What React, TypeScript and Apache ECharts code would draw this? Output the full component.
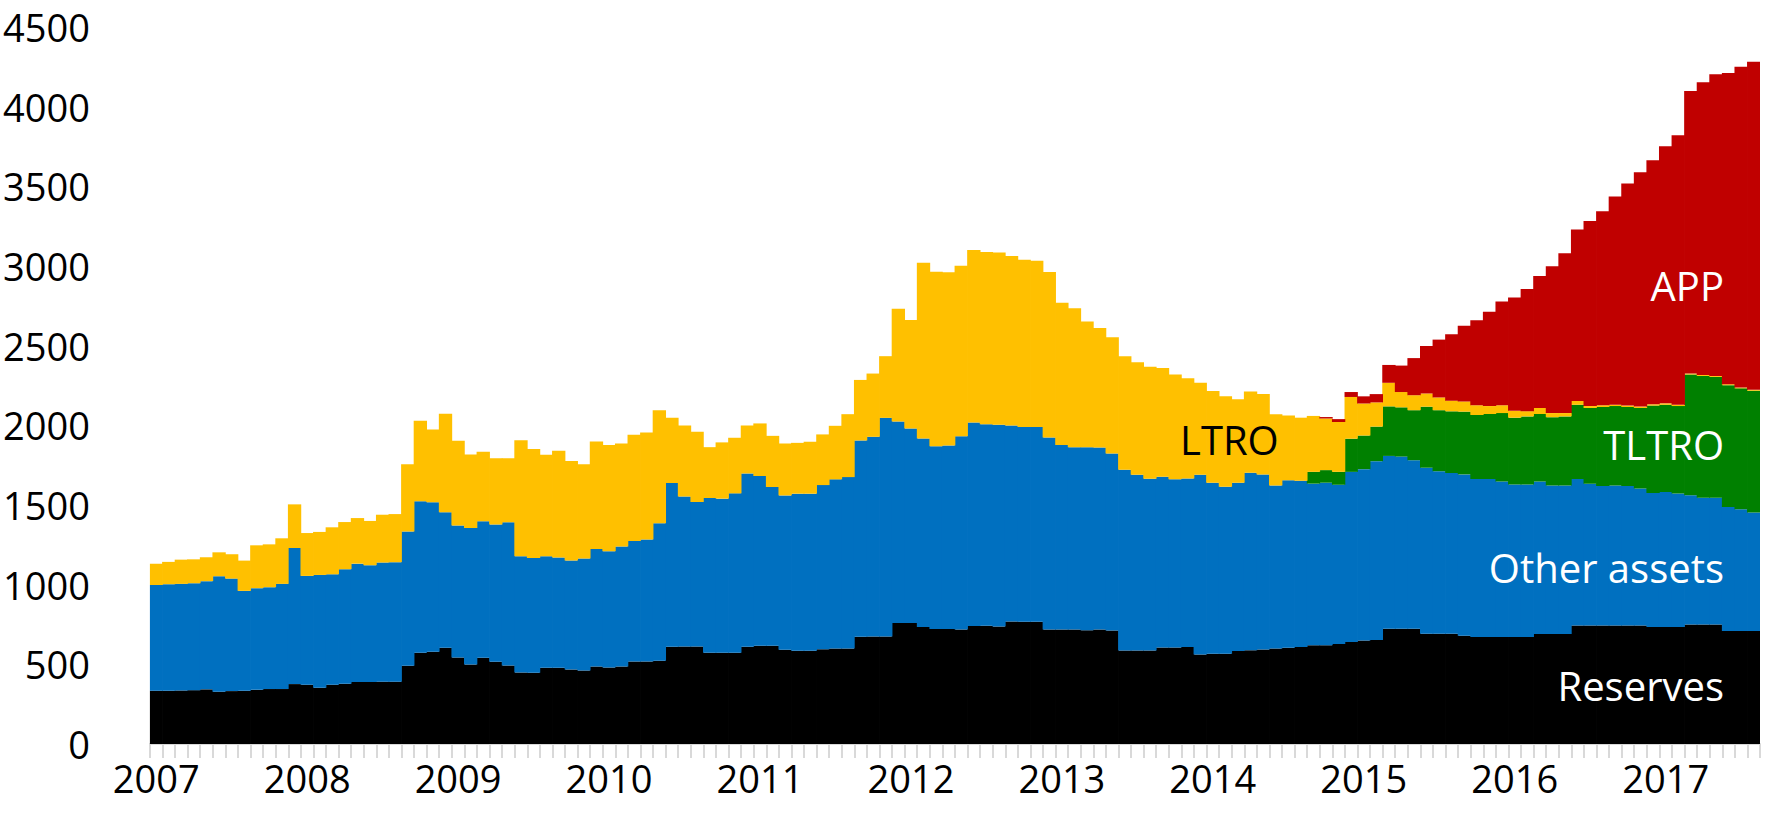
import React, { useEffect, useRef } from "react";
import * as echarts from "echarts";

// Monthly, Jan 2007 – Aug 2017
const startYear = 2007;
const monthCount = 128;
const categories: string[] = [];
for (let i = 0; i < monthCount; i++) {
  const y = startYear + Math.floor(i / 12);
  const m = (i % 12) + 1;
  categories.push(`${y}-${m < 10 ? "0" + m : m}`);
}

const yTicks = { min: 0, max: 4500, interval: 500 };

const reserves = [
  334, 334, 336, 338, 343, 328, 332, 334, 340, 345, 345, 376,
  372, 353, 372, 378, 389, 389, 391, 391, 491, 572, 579, 604,
  543, 499, 541, 516, 493, 449, 447, 478, 478, 468, 462, 487,
  480, 487, 518, 518, 522, 610, 612, 612, 572, 572, 572, 610,
  616, 616, 591, 585, 585, 595, 600, 600, 673, 675, 675, 760,
  760, 735, 721, 721, 719, 740, 742, 737, 769, 767, 767, 719,
  719, 719, 714, 719, 712, 587, 587, 587, 606, 606, 609, 562,
  566, 566, 584, 589, 593, 600, 604, 609, 620, 620, 627, 640,
  649, 653, 723, 723, 723, 692, 692, 692, 680, 671, 671, 671,
  671, 671, 691, 691, 691, 744, 744, 744, 744, 744, 744, 735,
  735, 735, 750, 750, 750, 709, 709, 709,
];

const otherAssets = [
  664, 669, 669, 671, 679, 725, 706, 627, 638, 639, 660, 854,
  683, 708, 693, 719, 743, 733, 748, 750, 842, 951, 938, 850,
  829, 857, 857, 861, 898, 729, 721, 700, 692, 683, 702, 737,
  730, 752, 756, 765, 863, 1028, 942, 907, 972, 968, 1001, 1088,
  1066, 997, 969, 986, 986, 1030, 1061, 1075, 1232, 1253, 1372, 1264,
  1220, 1183, 1147, 1153, 1213, 1278, 1265, 1266, 1230, 1222, 1222, 1205,
  1157, 1144, 1149, 1142, 1112, 1134, 1103, 1078, 1071, 1055, 1058, 1128,
  1074, 1048, 1056, 1114, 1099, 1023, 1052, 1043, 1014, 1020, 1000, 1068,
  1076, 1122, 1085, 1081, 1058, 1042, 1020, 1009, 1012, 992, 992, 977,
  957, 957, 957, 931, 931, 919, 890, 875, 878, 875, 860, 840,
  846, 837, 811, 796, 796, 779, 764, 744,
];

// null = no TLTRO outstanding yet
const tltro = [
  null, null, null, null, null, null, null, null, null, null, null, null,
  null, null, null, null, null, null, null, null, null, null, null, null,
  null, null, null, null, null, null, null, null, null, null, null, null,
  null, null, null, null, null, null, null, null, null, null, null, null,
  null, null, null, null, null, null, null, null, null, null, null, null,
  null, null, null, null, null, null, null, null, null, null, null, null,
  null, null, null, null, null, null, null, null, null, null, null, null,
  null, null, null, null, null, null, null, null, 74, 79, 81, 208,
  211, 217, 311, 309, 314, 383, 383, 387, 394, 402, 408, 429,
  420, 428, 423, 429, 434, 466, 475, 496, 499, 496, 505, 549,
  548, 549, 758, 764, 758, 764, 759, 764,
];

const ltro = [
  134, 140, 152, 150, 150, 150, 153, 190, 269, 269, 286, 274,
  269, 270, 295, 296, 286, 278, 300, 302, 422, 505, 457, 618,
  531, 461, 436, 417, 403, 729, 683, 637, 670, 625, 591, 675,
  666, 647, 667, 672, 710, 409, 445, 441, 319, 353, 349, 301,
  330, 321, 326, 319, 326, 318, 336, 395, 380, 397, 387, 708,
  681, 1103, 1096, 1086, 1070, 1082, 1081, 1081, 1063, 1050, 1044, 1038,
  894, 872, 788, 750, 729, 713, 706, 702, 683, 658, 629, 577,
  576, 568, 524, 510, 504, 447, 405, 396, 351, 324, 313, 262,
  201, 152, 148, 96, 94, 83, 80, 67, 64, 61, 50, 49,
  43, 33, 38, 26, 21, 24, 12, 11, 8, 9, 9, 8,
  9, 8, 6, 6, 6, 6, 5, 6,
];

// null = programme not started yet
const app = [
  null, null, null, null, null, null, null, null, null, null, null, null,
  null, null, null, null, null, null, null, null, null, null, null, null,
  null, null, null, null, null, null, null, null, null, null, null, null,
  null, null, null, null, null, null, null, null, null, null, null, null,
  null, null, null, null, null, null, null, null, null, null, null, null,
  null, null, null, null, null, null, null, null, null, null, null, null,
  null, null, null, null, null, null, null, null, null, null, null, null,
  null, null, null, null, null, null, null, null, null, 9, 18, 31,
  45, 52, 112, 166, 233, 298, 363, 416, 475, 534, 592, 651,
  712, 767, 828, 922, 1003, 1076, 1161, 1217, 1307, 1394, 1470, 1532,
  1613, 1692, 1773, 1838, 1893, 1954, 2013, 2059,
];

const seriesDefs = [
  { name: "Reserves", data: reserves, color: "#000000" },
  { name: "Other assets", data: otherAssets, color: "#0070C0" },
  { name: "TLTRO", data: tltro, color: "#008000" },
  { name: "LTRO", data: ltro, color: "#FFC000" },
  { name: "APP", data: app, color: "#C00000" },
];

const FONT = "'Open Sans', 'Noto Sans', sans-serif";
const LABEL_SIZE = 38;
const NOTE_SIZE = 40;

const notes = [
  { text: "APP", x: 1724, y: 285, align: "right", color: "#ffffff" },
  { text: "TLTRO", x: 1724, y: 444, align: "right", color: "#ffffff" },
  { text: "Other assets", x: 1724, y: 567, align: "right", color: "#ffffff" },
  { text: "Reserves", x: 1724, y: 685, align: "right", color: "#ffffff" },
  { text: "LTRO", x: 1180, y: 439, align: "left", color: "#000000" },
];

export default function App() {
  const ref = useRef<HTMLDivElement>(null);
  useEffect(() => {
    if (!ref.current) return;
    const chart = echarts.init(ref.current, null, { renderer: "svg" });
    chart.setOption({
      animation: false,
      backgroundColor: "#ffffff",
      grid: { left: 148, right: 7, top: 27, bottom: 84 },
      xAxis: {
        type: "category",
        data: categories,
        boundaryGap: true,
        axisLine: { show: true, lineStyle: { color: "#d9d9d9", width: 2 } },
        axisTick: {
          show: true,
          interval: 0,
          length: 14,
          lineStyle: { color: "#d9d9d9", width: 2 },
        },
        axisLabel: {
          interval: (idx: number) => idx % 12 === 0,
          formatter: (v: string) => v.slice(0, 4),
          fontSize: LABEL_SIZE,
          fontFamily: FONT,
          color: "#000",
          margin: 15,
        },
      },
      yAxis: {
        type: "value",
        min: yTicks.min,
        max: yTicks.max,
        interval: yTicks.interval,
        splitLine: { show: false },
        axisLine: { show: false },
        axisTick: { show: false },
        axisLabel: {
          fontSize: LABEL_SIZE,
          fontFamily: FONT,
          color: "#000",
          margin: 60,
          formatter: (v: number) => String(v),
        },
      },
      series: seriesDefs.map((s) => ({
        name: s.name,
        type: "bar",
        stack: "total",
        data: s.data,
        barWidth: "106%",
        itemStyle: { color: s.color },
        emphasis: { disabled: true },
      })),
      graphic: {
        elements: notes.map((n) => ({
          type: "text",
          x: n.x,
          y: n.y,
          z: 100,
          style: {
            text: n.text,
            fill: n.color,
            fontSize: NOTE_SIZE,
            fontFamily: FONT,
            textAlign: n.align,
            textVerticalAlign: "middle",
          },
        })),
      },
    });
    return () => chart.dispose();
  }, []);
  return (
    <div
      ref={ref}
      style={{ position: "fixed", left: 0, top: 0, width: 1767, height: 828 }}
    />
  );
}
